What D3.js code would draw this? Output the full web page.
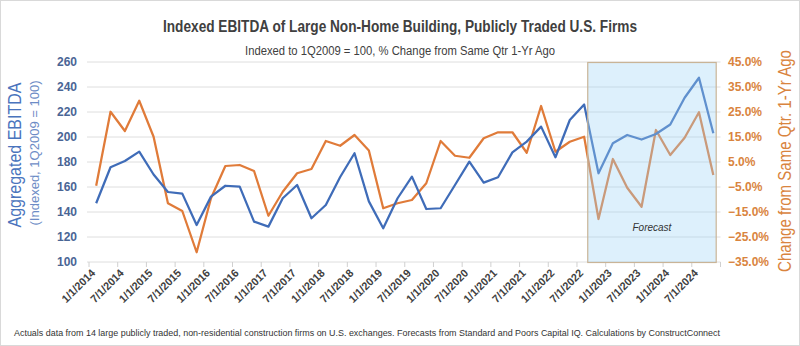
<!DOCTYPE html>
<html>
<head>
<meta charset="utf-8">
<script src="https://cdn.jsdelivr.net/npm/d3@7"></script>
<style>
  body { margin: 0; background: #fff; }
  svg { display: block; font-family: "Liberation Sans", Arial, sans-serif; }
</style>
</head>
<body>
<div id="chart"></div>
<script>
// quarters, 1Q2014 .. 4Q2024
const quarters = [
  "1/1/2014","4/1/2014","7/1/2014","10/1/2014","1/1/2015","4/1/2015","7/1/2015","10/1/2015",
  "1/1/2016","4/1/2016","7/1/2016","10/1/2016","1/1/2017","4/1/2017","7/1/2017","10/1/2017",
  "1/1/2018","4/1/2018","7/1/2018","10/1/2018","1/1/2019","4/1/2019","7/1/2019","10/1/2019",
  "1/1/2020","4/1/2020","7/1/2020","10/1/2020","1/1/2021","4/1/2021","7/1/2021","10/1/2021",
  "1/1/2022","4/1/2022","7/1/2022","10/1/2022","1/1/2023","4/1/2023","7/1/2023","10/1/2023",
  "1/1/2024","4/1/2024","7/1/2024","10/1/2024"
];

// indexed EBITDA (left axis)
const ebitda = [147, 175.8, 180.8, 188.3, 170, 156, 154.7, 129.6, 152.3, 161,
  160.3, 132.3, 128.3, 151, 161.6, 135, 145.6, 168, 187, 148.5,
  127, 151, 168.3, 142.4, 143, 161.6, 180.3, 163.5, 167.8, 187.7,
  196.3, 208.3, 183.8, 213.6, 226, 171, 195, 201.6, 198, 202.4,
  210, 231.4, 247.4, 203];

// % change from same qtr 1-yr ago (right axis)
const pctChange = [-4.5, 25.1, 17.4, 29.5, 15.1, -11.5, -14.6, -31.1, -9.5, 3.4,
  3.8, 1.4, -16.5, -6.9, 0.5, 2.2, 13.4, 11.5, 15.8, 9.6,
  -13.5, -11.5, -10.2, -3.5, 13.4, 7.5, 6.7, 14.5, 16.9, 16.9,
  8.7, 27.4, 9.1, 13.1, 15.1, -17.8, 6.2, -5.3, -12.9, 17.8,
  7.8, 14.7, 24.9, -0.2];

const leftTicks = [100, 120, 140, 160, 180, 200, 220, 240, 260];
const rightTicks = [-35, -25, -15, -5, 5, 15, 25, 35, 45];
const xTickLabels = quarters.filter(q => q.startsWith("1/1") || q.startsWith("7/1"));
const forecastStart = "10/1/2022";

const width = 800, height = 346;
const plot = { left: 89, right: 720.5, top: 62, bottom: 262 };

const svg = d3.select("#chart").append("svg")
  .attr("width", width)
  .attr("height", height);

// outer frame
svg.append("rect")
  .attr("x", 0.5).attr("y", 0.5)
  .attr("width", width - 1).attr("height", height - 1)
  .attr("fill", "#fff")
  .attr("stroke", "#d9d9d9");

// scales
const x = d3.scaleBand().domain(quarters).range([plot.left, plot.right]);
const cx = q => x(q) + x.bandwidth() / 2;
const yL = d3.scaleLinear().domain([100, 260]).range([plot.bottom, plot.top]);
const yR = d3.scaleLinear().domain([-35, 45]).range([plot.bottom, plot.top]);

// gridlines
svg.append("g")
  .selectAll("line")
  .data(leftTicks)
  .join("line")
  .attr("x1", plot.left - 2).attr("x2", plot.right)
  .attr("y1", d => yL(d)).attr("y2", d => yL(d))
  .attr("stroke", "#dedede")
  .attr("stroke-width", 1);

// x tick marks between every 2 categories
const xAxis = svg.append("g");
xAxis.selectAll("line")
  .data(d3.range(0, quarters.length + 1, 2))
  .join("line")
  .attr("x1", i => plot.left + i * x.step())
  .attr("x2", i => plot.left + i * x.step())
  .attr("y1", plot.bottom).attr("y2", plot.bottom + 5)
  .attr("stroke", "#d0d0d0");

xAxis.selectAll("text")
  .data(xTickLabels)
  .join("text")
  .attr("transform", d => `translate(${cx(d) - 3},${plot.bottom + 9}) rotate(-45)`)
  .attr("text-anchor", "end")
  .attr("dy", "0.35em")
  .attr("fill", "#404040")
  .attr("textLength", 42)
  .attr("lengthAdjust", "spacingAndGlyphs")
  .style("font-size", "11px")
  .style("font-weight", "bold")
  .text(d => d);

// left axis labels
svg.append("g")
  .selectAll("text")
  .data(leftTicks)
  .join("text")
  .attr("x", 77).attr("y", d => yL(d))
  .attr("dy", "0.35em")
  .attr("text-anchor", "end")
  .attr("fill", "#4a6595")
  .style("font-size", "12px")
  .style("font-weight", "bold")
  .text(d => d);

// right axis labels
svg.append("g")
  .selectAll("text")
  .data(rightTicks)
  .join("text")
  .attr("x", 728).attr("y", d => yR(d))
  .attr("dy", "0.35em")
  .attr("fill", "#d9843e")
  .style("font-size", "12px")
  .style("font-weight", "bold")
  .text(d => d3.format(".1f")(d) + "%");

// lines
const blueLine = d3.line().x((d, i) => cx(quarters[i])).y(d => yL(d));
const orangeLine = d3.line().x((d, i) => cx(quarters[i])).y(d => yR(d));

svg.append("path")
  .datum(pctChange)
  .attr("d", orangeLine)
  .attr("fill", "none")
  .attr("stroke", "#e07b39")
  .attr("stroke-width", 2.25)
  .attr("stroke-linejoin", "round");

svg.append("path")
  .datum(ebitda)
  .attr("d", blueLine)
  .attr("fill", "none")
  .attr("stroke", "#3f6cb8")
  .attr("stroke-width", 2.25)
  .attr("stroke-linejoin", "round");

// forecast box (semi transparent, on top of lines)
const fx0 = cx(forecastStart) - x.step() * 0.75;
const fx1 = cx(quarters[quarters.length - 1]) + x.step() * 0.2;
svg.append("rect")
  .attr("x", fx0).attr("y", plot.top + 0.5)
  .attr("width", fx1 - fx0).attr("height", plot.bottom - plot.top)
  .attr("fill", "#9ed4f6")
  .attr("fill-opacity", 0.35)
  .attr("stroke", "#c9b497")
  .attr("stroke-width", 1.2);

svg.append("text")
  .attr("x", (fx0 + fx1) / 2).attr("y", 231)
  .attr("text-anchor", "middle")
  .attr("fill", "#333")
  .style("font-size", "10px")
  .style("font-style", "italic")
  .text("Forecast");

// titles
svg.append("text")
  .attr("x", 400).attr("y", 32)
  .attr("text-anchor", "middle")
  .attr("fill", "#404040")
  .attr("textLength", 474)
  .attr("lengthAdjust", "spacingAndGlyphs")
  .style("font-size", "16px")
  .style("font-weight", "bold")
  .text("Indexed EBITDA of Large Non-Home Building, Publicly Traded U.S. Firms");

svg.append("text")
  .attr("x", 400).attr("y", 55)
  .attr("text-anchor", "middle")
  .attr("fill", "#404040")
  .attr("textLength", 310)
  .attr("lengthAdjust", "spacingAndGlyphs")
  .style("font-size", "12.5px")
  .text("Indexed to 1Q2009 = 100, % Change from Same Qtr 1-Yr Ago");

// axis titles
svg.append("text")
  .attr("transform", `translate(21,${(plot.top + plot.bottom) / 2 - 7}) rotate(-90)`)
  .attr("text-anchor", "middle")
  .attr("fill", "#4a74bd")
  .attr("textLength", 145)
  .attr("lengthAdjust", "spacingAndGlyphs")
  .style("font-size", "18px")
  .text("Aggregated EBITDA");

svg.append("text")
  .attr("transform", `translate(39,${(plot.top + plot.bottom) / 2 - 9}) rotate(-90)`)
  .attr("text-anchor", "middle")
  .attr("fill", "#6d8cc6")
  .attr("textLength", 145)
  .attr("lengthAdjust", "spacingAndGlyphs")
  .style("font-size", "13.5px")
  .text("(Indexed, 1Q2009 = 100)");

svg.append("text")
  .attr("transform", `translate(791,${(plot.top + plot.bottom) / 2 - 1}) rotate(-90)`)
  .attr("text-anchor", "middle")
  .attr("fill", "#d9843e")
  .attr("textLength", 222)
  .attr("lengthAdjust", "spacingAndGlyphs")
  .style("font-size", "17.5px")
  .text("Change from Same Qtr. 1-Yr Ago");

// footer
svg.append("text")
  .attr("x", 14).attr("y", 336)
  .attr("fill", "#333")
  .attr("textLength", 706)
  .attr("lengthAdjust", "spacingAndGlyphs")
  .style("font-size", "9px")
  .text("Actuals data from 14 large publicly traded, non-residential construction firms on U.S. exchanges.  Forecasts from Standard and Poors Capital IQ.  Calculations by ConstructConnect");
</script>
</body>
</html>
